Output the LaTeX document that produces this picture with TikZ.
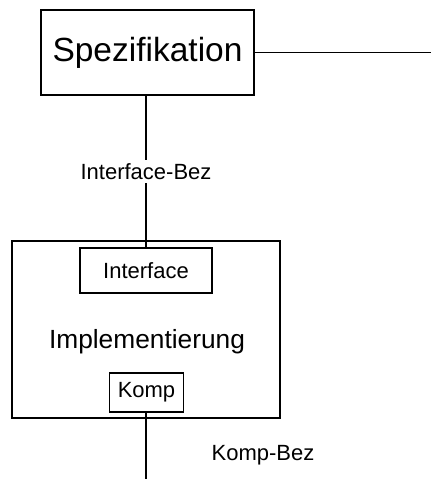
\documentclass[tikz,border=0pt]{standalone}
\usepackage{fontspec}
\setmainfont{Liberation Sans}
\usepackage{tikz}
\usetikzlibrary{calc,positioning}

\begin{document}
\begin{tikzpicture}[x=1pt,y=1pt,line width=1.3pt,
    kasten/.style={draw,inner sep=0pt,rectangle},
    beschr/.style={font=\fontsize{22}{26}\selectfont}]
  \useasboundingbox (0,0) rectangle (431,479);
  % obere Box
  \node (spez) [kasten,minimum width=213,minimum height=85,
    font=\fontsize{33.5}{40}\selectfont] at (147.5,426.5) {Spezifikation};
  \coordinate (rechts) at (431,426.5);
  \draw (spez.east) -- (rechts);
  % untere Box mit Interface und Komp
  \node (impl) [kasten,minimum width=268,minimum height=177] at (146,149.5) {};
  \node (impltext) [font=\fontsize{26.3}{30}\selectfont] at (147,137) {Implementierung};
  \node (iface) [kasten,beschr,minimum width=132,minimum height=45] at (146,208.5) {Interface};
  \node (komp) [kasten,beschr,minimum width=74,minimum height=39] at (146.5,86.5) {Komp};
  % Verbindungen
  \draw (spez.south -| iface.north) -- node[beschr,fill=white] (ifbez) {Interface-Bez} (iface.north);
  \coordinate (unten) at (146,0);
  \draw (komp.south -| unten) -- (unten);
  \node (kbez) [beschr] at (263,24) {Komp-Bez};
\end{tikzpicture}
\end{document}
